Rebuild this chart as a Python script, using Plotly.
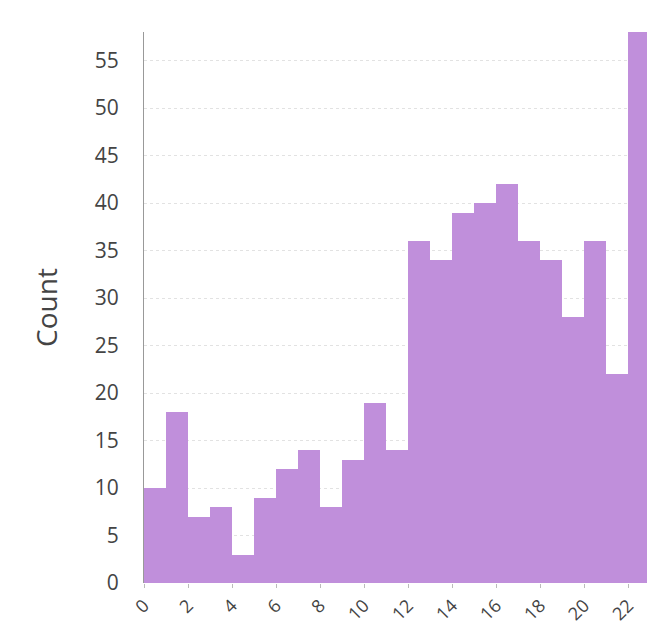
import plotly.graph_objects as go

bin_starts = list(range(23))
counts = [10, 18, 7, 8, 3, 9, 12, 14, 8, 13, 19, 14, 36, 34, 39, 40, 42, 36, 34, 28, 36, 22, 58]
x_ticks = list(range(0, 23, 2))

fig = go.Figure(go.Bar(
    x=[s + 0.5 for s in bin_starts],
    y=counts,
    width=1,
    marker=dict(color="#c08fdb", line=dict(width=0)),
))

font = "Open Sans, Noto Sans, sans-serif"
fig.update_layout(
    width=647, height=629,
    margin=dict(l=144, r=0, t=32, b=46),
    plot_bgcolor="white", paper_bgcolor="white",
    bargap=0, showlegend=False,
    font=dict(family=font, color="#444444"),
)
fig.update_xaxes(
    range=[0, 22.86], tickvals=x_ticks, ticktext=[str(v) for v in x_ticks],
    tickangle=-45, tickfont=dict(size=18, color="#444444"),
    ticks="outside", ticklen=4, tickcolor="#bbbbbb",
    showgrid=False, zeroline=False, showline=False, automargin=False,
)
fig.update_yaxes(
    range=[0, 58], tickvals=list(range(0, 60, 5)),
    tickfont=dict(size=21, color="#444444"),
    showgrid=True, gridcolor="#e2e2e2", griddash="dot", gridwidth=1,
    zeroline=False, showline=True, linecolor="#999999", linewidth=1,
    ticks="", ticklabelstandoff=20, automargin=False,
    title=dict(text="Count", font=dict(size=28, color="#444444"), standoff=28),
)
fig.write_html(
    "out.html",
    config={"displayModeBar": False},
    post_script="document.body.style.margin='0';document.body.style.overflow='hidden';",
)
